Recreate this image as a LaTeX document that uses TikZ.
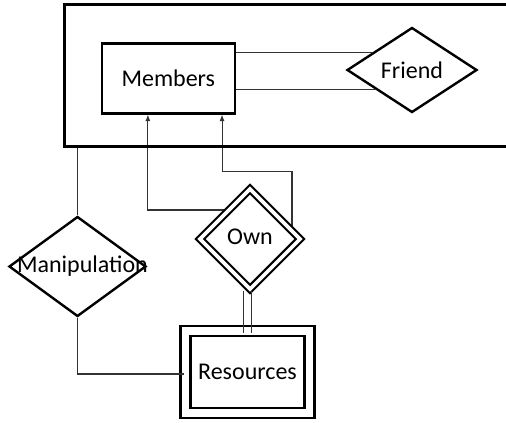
\documentclass[tikz,border=0pt]{standalone}
\usepackage{fontspec}
\setmainfont{Carlito}
\usetikzlibrary{shapes.geometric,arrows.meta,backgrounds}

\begin{document}
\begin{tikzpicture}[
  x=1pt, y=-1pt,
  entity/.style={rectangle, draw, line width=2.5pt,
                 minimum width=133pt, minimum height=70pt},
  weakentity/.style={rectangle, draw, line width=2.3pt, double, double distance=7.6pt,
                     minimum width=124pt, minimum height=82pt},
  rel/.style={diamond, draw, line width=2.4pt, inner sep=1pt},
  weakrel/.style={diamond, draw, line width=2.2pt, double, double distance=3.6pt, fill=white,
                  minimum width=101pt, minimum height=101pt},
  sysframe/.style={rectangle, draw, line width=2.7pt, anchor=north west,
                   minimum width=520pt, minimum height=141.7pt},
  conn/.style={draw=black!80, line width=1.1pt},
  arr/.style={conn, -{Latex[length=6.5pt,width=5pt]}}, % strzalka do Members
  every node/.style={font=\fontsize{24}{28}\selectfont}
]
\useasboundingbox (0,0) rectangle (506,423);

% ====== SYSTEM (gorna ramka) ======
\node[sysframe] (system) at (63.3,3.3) {};
\node[entity] (members) at (168.3,78.3) {Members};
\node[rel, minimum width=130pt, minimum height=85pt] (friend) at (412,70) {Friend};

% ====== DOL ======
\node[weakrel] (own) at (250,239) {\raisebox{5pt}{Own}};
\node[rel, minimum width=137pt, minimum height=100pt,
      label={[xshift=5pt]center:Manipulation}] (manip) at (77.5,266.5) {};
\node[weakentity] (resources) at (247.5,372) {Resources};

% Members -- Friend (dwie linie)
\draw[conn] (members.east |- friend.156) -- (friend.156);
\draw[conn] (members.east |- friend.209) -- (friend.209);

% System -- Manipulation -- Resources
\draw[conn] (system.south -| manip.north) -- (manip.north);
\draw[conn] (manip.south) |- ([yshift=-2pt]resources.west);

% Own -- Resources (podwojna linia)
\coordinate (ownfoot) at (own.south -| resources.north);
\foreach \dx in {-4.2,4.2}
  \draw[conn] ([xshift=\dx pt]ownfoot) -- ([xshift=\dx pt,yshift=-3.5pt]resources.north);

% Own -> Members (pod wezlem Own)
\begin{scope}[on background layer]
  \draw[arr] ([yshift=29pt]own.center) -| ([xshift=47.3pt]members.south west);
  \draw[arr] ([xshift=42pt]own.center) |- ([xshift=-14pt,yshift=-56.7pt]members.south east)
             -- ([xshift=-14pt]members.south east);
\end{scope}

\end{tikzpicture}
\end{document}
